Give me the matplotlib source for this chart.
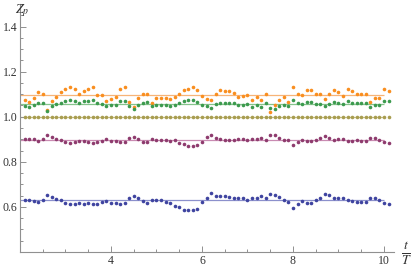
import numpy as np
import matplotlib
matplotlib.use('Agg')
import matplotlib.pyplot as plt
from matplotlib.ticker import MultipleLocator

plt.rcParams['font.family'] = 'serif'
plt.rcParams['font.serif'] = ['Liberation Serif', 'DejaVu Serif']
plt.rcParams['mathtext.fontset'] = 'stix'

# time in units of T
t = np.arange(21, 102) / 10.0

orange = [1.072, 1.064, 1.083, 1.108, 1.100, 1.028, 1.068, 1.087, 1.109, 1.121,
          1.130, 1.122, 1.100, 1.115, 1.121, 1.130, 1.097, 1.095, 1.071, 1.080,
          1.086, 1.124, 1.130, 1.065, 1.042, 1.081, 1.099, 1.102,
          1.062, 1.083, 1.084, 1.081, 1.078, 1.087, 1.102, 1.120, 1.122, 1.131, 1.117,
          1.093, 1.077, 1.074, 1.100, 1.117, 1.114, 1.114, 1.106, 1.089, 1.092,
          1.097, 1.072, 1.086, 1.074, 1.103, 1.022, 1.053, 1.075, 1.089, 1.067,
          1.134, 1.102, 1.096, 1.120, 1.117, 1.100, 1.100, 1.078, 1.102, 1.120,
          1.109, 1.090, 1.124, 1.114, 1.100, 1.103, 1.102, 1.067, 1.083, 1.084,
          1.121, 1.112]
green = [1.049, 1.041, 1.053, 1.063, 1.059, 1.027, 1.046, 1.057, 1.063, 1.069,
         1.074, 1.068, 1.060, 1.069, 1.069, 1.074, 1.060, 1.056, 1.046, 1.053,
         1.053, 1.068, 1.071, 1.046, 1.034, 1.053, 1.063, 1.065, 1.046, 1.050,
         1.050, 1.050, 1.049, 1.050, 1.059, 1.069, 1.072, 1.075, 1.065, 1.050,
         1.046, 1.040,
         1.056, 1.063, 1.063, 1.063, 1.060, 1.053, 1.053, 1.056, 1.044, 1.050,
         1.044, 1.059, 1.038,
         1.034, 1.046, 1.053, 1.047, 1.075, 1.060, 1.056, 1.065, 1.065, 1.056,
         1.055, 1.046, 1.056, 1.065, 1.059, 1.056, 1.069, 1.063, 1.059, 1.059,
         1.059, 1.044, 1.050, 1.053, 1.069, 1.068]
gold = [1.0] * 81
purple = [0.901, 0.901, 0.900, 0.891, 0.900, 0.919, 0.909, 0.903, 0.896, 0.890,
          0.885, 0.890, 0.891, 0.893, 0.890, 0.885, 0.888, 0.894, 0.900, 0.893,
          0.894, 0.887, 0.887, 0.904, 0.912, 0.901, 0.890, 0.887, 0.900, 0.897,
          0.897, 0.896, 0.894, 0.896, 0.885, 0.881, 0.871, 0.871, 0.875, 0.890,
          0.909, 0.919, 0.907, 0.901, 0.898, 0.898, 0.897, 0.900, 0.901, 0.896,
          0.903, 0.903, 0.907, 0.897, 0.921, 0.918, 0.907, 0.897, 0.897, 0.873,
          0.890, 0.897, 0.893, 0.891, 0.897, 0.904, 0.913, 0.907, 0.898, 0.900,
          0.901, 0.893, 0.894, 0.896, 0.891, 0.891, 0.904, 0.906, 0.897, 0.887,
          0.885]
blue = [0.630, 0.629, 0.626, 0.620, 0.632, 0.655, 0.642, 0.635, 0.629, 0.617,
        0.611, 0.613, 0.619, 0.614, 0.617, 0.613, 0.613, 0.622, 0.628, 0.616,
        0.616, 0.614, 0.616, 0.639, 0.650, 0.641, 0.626, 0.617, 0.632, 0.632,
        0.632, 0.623, 0.619, 0.603, 0.600, 0.586, 0.585, 0.586, 0.592, 0.620,
        0.639, 0.660,
        0.648, 0.647, 0.647, 0.645, 0.641, 0.641, 0.641, 0.629, 0.638, 0.639,
        0.647, 0.638, 0.658, 0.654, 0.644, 0.629, 0.620, 0.595, 0.614, 0.626,
        0.619, 0.619, 0.629, 0.641, 0.658, 0.651, 0.641, 0.639, 0.638, 0.629,
        0.625, 0.623, 0.620, 0.623, 0.641, 0.641, 0.632, 0.617, 0.613]

# mean levels (horizontal reference lines)
levels = [1.096, 1.056, 1.0, 0.897, 0.629]
series = [orange, green, gold, purple, blue]
dot_colors = ['#f98e1f', '#3c9a4e', '#a89d50', '#8e3b6e', '#3f44a0']
line_colors = ['#f7b478', '#86c48c', '#c9c088', '#c98bb2', '#8c90cc']

fig = plt.figure(figsize=(4.15, 2.7), dpi=100)
ax = fig.add_axes([20/415, 18/270, 374/415, 248/270])

for lev, lc in zip(levels, line_colors):
    ax.hlines(lev, 2.0, 10.0, color=lc, lw=0.9, zorder=1)
for ys, dc in zip(series, dot_colors):
    ax.plot(t, ys, 'o', ms=2.6, mew=0, color=dc, zorder=2)

ax.set_xlim(2.0, 10.22)
ax.set_ylim(0.4, 1.5)
for s in ['top', 'right']:
    ax.spines[s].set_visible(False)
for s in ['left', 'bottom']:
    ax.spines[s].set_color('#909090')
    ax.spines[s].set_linewidth(0.8)

ax.set_xticks([4, 6, 8, 10])
ax.set_yticks([0.6, 0.8, 1.0, 1.2, 1.4])
ax.set_yticklabels(['0.6', '0.8', '1.0', '1.2', '1.4'])
ax.xaxis.set_minor_locator(MultipleLocator(0.5))
ax.yaxis.set_minor_locator(MultipleLocator(0.05))
ax.tick_params(which='both', direction='in', color='#909090', width=0.7,
               labelsize=8.5, labelcolor='#333333', pad=2)
ax.tick_params(which='major', length=4)
ax.tick_params(which='minor', length=2)

fig.text(22/415, 1 - 2/270, r'$Z_p$', ha='center', va='top', fontsize=10, color='#333333')
fig.text(406/415, 1 - 253/270, r'$\frac{t}{T}$', ha='center', va='center', fontsize=14, color='#333333')

fig.savefig('out.png', dpi=100)
